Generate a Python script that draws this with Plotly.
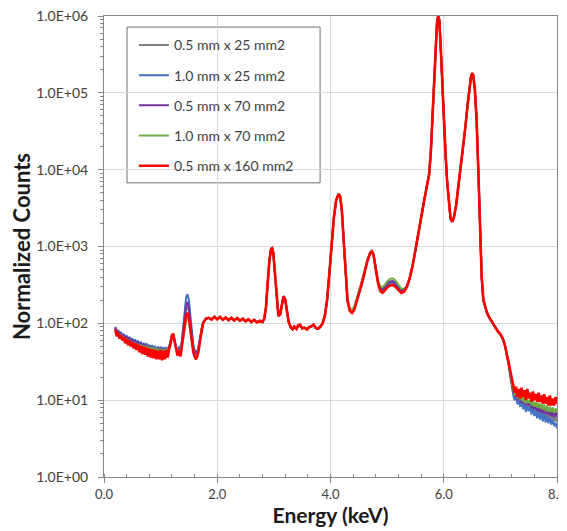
import numpy as np
import plotly.graph_objects as go

# ---------------- data ----------------
series_names = ["0.5 mm x 25 mm2", "1.0 mm x 25 mm2", "0.5 mm x 70 mm2",
                "1.0 mm x 70 mm2", "0.5 mm x 160 mm2"]
series_colors = ["#808080", "#4472C4", "#7030A0", "#70AD47", "#FF0000"]

# low-energy region, channel start 0.200 keV, step 0.025 keV
low_start, low_step = 0.200, 0.025
low_gray = [86, 73, 79, 68, 74, 64, 70, 60, 67, 57, 64, 55, 61, 52, 59, 50, 57, 48, 55, 46,
            53, 45, 52, 43, 50, 42, 49, 41, 48, 40, 47, 40, 47, 39, 46, 40, 46, 41, 48, 55,
            68, 71, 56, 47, 42, 46, 43, 54, 76, 115, 152, 165, 140, 98, 65, 48, 42, 39, 41, 49,
            64, 84, 101]
low_blue = [90, 76, 82, 71, 77, 67, 73, 63, 70, 60, 67, 58, 64, 55, 62, 53, 60, 51, 58, 49,
            56, 48, 55, 46, 53, 45, 52, 44, 51, 43, 50, 43, 50, 42, 49, 43, 49, 44, 50, 57,
            68, 70, 57, 49, 45, 49, 46, 60, 92, 150, 215, 240, 200, 128, 78, 54, 45, 42, 44, 51,
            66, 86, 103]
low_purple = [88, 74, 80, 69, 75, 65, 71, 61, 68, 58, 65, 56, 62, 53, 60, 51, 58, 49, 56, 47,
              54, 46, 53, 44, 51, 43, 50, 42, 49, 41, 48, 41, 48, 40, 47, 41, 47, 42, 49, 56,
              69, 71, 57, 48, 43, 47, 44, 56, 82, 128, 172, 190, 160, 108, 70, 50, 43, 40, 42, 50,
              65, 85, 102]
low_green = [80, 70, 75, 65, 71, 62, 67, 58, 64, 55, 61, 52, 58, 50, 56, 48, 54, 46, 53, 44,
             52, 43, 51, 42, 50, 41, 49, 40, 48, 40, 47, 39, 47, 39, 46, 40, 47, 41, 48, 55,
             67, 70, 56, 46, 41, 46, 41, 52, 66, 90, 110, 118, 104, 78, 57, 44, 39, 37, 40, 49,
             64, 84, 102]
low_red = [84, 68, 76, 63, 70, 60, 66, 55, 63, 52, 60, 50, 57, 47, 55, 45, 53, 42, 51, 40,
           50, 39, 48, 37, 47, 36, 46, 35, 45, 34, 44, 34, 45, 33, 44, 34, 45, 36, 46, 54,
           70, 73, 56, 44, 38, 45, 37, 50, 66, 98, 128, 137, 118, 84, 58, 43, 37, 34, 38, 46,
           62, 82, 100]

# plateau, Ar/Ca region (shared by all detectors)
mid1_energy = [1.775, 1.80, 1.85, 1.90, 1.95, 2.00, 2.05, 2.10, 2.15, 2.20, 2.25, 2.30, 2.35,
               2.40, 2.45, 2.50, 2.55, 2.60, 2.65, 2.70, 2.75, 2.80, 2.83, 2.86, 2.89, 2.92,
               2.95, 2.97, 2.99, 3.02, 3.05, 3.08, 3.11, 3.14, 3.17, 3.20, 3.23, 3.26, 3.30,
               3.33, 3.36, 3.40, 3.43, 3.46, 3.50, 3.54, 3.58, 3.62, 3.66, 3.70, 3.74, 3.78,
               3.82, 3.86, 3.90, 3.94, 3.98, 4.02, 4.06, 4.10, 4.14, 4.17, 4.20, 4.23, 4.26, 4.30]
mid1_counts = [108, 115, 118, 112, 122, 113, 121, 111, 119, 110, 118, 109, 117,
               108, 115, 106, 113, 104, 111, 103, 108, 104, 115, 160, 330, 650,
               930, 950, 820, 450, 200, 125, 130, 180, 225, 205, 150, 105, 88,
               84, 91, 85, 94, 96, 86, 88, 83, 89, 91, 96, 87, 85,
               90, 100, 125, 200, 450, 1100, 2400, 4000, 4800, 4500, 3000, 1300, 500, 200]

# Ti/V region (per detector)
mid2_energy = [4.34, 4.38, 4.42, 4.46, 4.50, 4.55, 4.60, 4.65, 4.70, 4.73, 4.76, 4.80, 4.84,
               4.88, 4.92, 4.96, 5.00, 5.05, 5.10, 5.15, 5.20, 5.25, 5.30]
mid2_gray = [150, 142, 156, 195, 248, 330, 462, 652, 828, 868, 782, 515, 342, 278, 268, 290,
             318, 340, 346, 325, 290, 262, 268]
mid2_blue = [148, 140, 154, 193, 245, 327, 458, 648, 825, 865, 778, 510, 338, 272, 262, 283,
             308, 330, 336, 316, 283, 258, 264]
mid2_purple = [152, 144, 158, 198, 252, 335, 468, 658, 832, 872, 788, 522, 348, 285, 276, 298,
               327, 350, 356, 334, 298, 268, 274]
mid2_green = [158, 150, 165, 205, 262, 345, 480, 670, 840, 880, 800, 540, 360, 300, 295, 320,
              352, 378, 385, 360, 318, 282, 285]
mid2_red = [145, 136, 150, 188, 240, 320, 450, 640, 820, 860, 770, 500, 330, 262, 250, 268,
            292, 312, 316, 298, 268, 248, 258]

# Mn K-alpha / K-beta region (shared)
mid3_energy = [5.35, 5.40, 5.45, 5.50, 5.55, 5.60, 5.65, 5.70, 5.74, 5.77, 5.80, 5.83, 5.86,
               5.88, 5.90, 5.92, 5.94, 5.96, 5.98, 6.00, 6.03, 6.06, 6.09, 6.12, 6.15, 6.18,
               6.22, 6.26, 6.30, 6.34, 6.38, 6.42, 6.45, 6.48, 6.50, 6.52, 6.55, 6.58, 6.61,
               6.63, 6.65, 6.67, 6.70, 6.73, 6.76, 6.80, 6.84, 6.88, 6.92, 6.96, 7.00, 7.04,
               7.08, 7.12]
mid3_counts = [300, 390, 560, 900, 1500, 2500, 3800, 6000, 8500, 16000, 50000, 180000, 450000,
               800000, 1000000, 900000, 500000, 220000, 100000, 45000, 17000, 7000, 3500, 2300,
               2100, 2400, 3500, 6000, 10000, 18000, 35000, 68000, 110000, 160000, 180000,
               170000, 110000, 45000, 10000, 3000, 900, 400, 200, 160, 140, 120, 108, 95, 85,
               78, 72, 64, 52, 38]

# high-energy tail, channel start 7.150 keV, step 0.025 keV
high_start, high_step = 7.150, 0.025
high_gray = [29, 21, 16, 13, 10.5, 12, 9.5, 11, 9, 10.5, 8.5, 10, 8, 9.5, 8, 9, 7.2, 8.8, 7,
             8.2, 6.5, 8, 6.4, 7.5, 6.2, 7.4, 6, 7.2, 5.8, 6.8, 5.6, 6.5, 5.3, 6, 5.2]
high_blue = [28, 20, 15, 12, 10, 11.5, 8.8, 10.5, 8.2, 9.8, 7.6, 9.2, 7, 8.6, 7.2, 8, 6.5, 8,
             6.2, 7.4, 5.8, 7.2, 5.6, 6.8, 5.3, 6.6, 5.1, 6.2, 5, 5.9, 4.8, 5.6, 4.6, 5.1, 4.3]
high_purple = [29, 22, 17, 13.5, 11, 12.5, 10, 11.5, 9.5, 11, 9, 10.5, 8.5, 10, 8.6, 9.5, 7.8,
               9.4, 7.6, 8.8, 7.2, 8.7, 7, 8.2, 6.8, 8, 6.6, 7.8, 6.4, 7.5, 6.2, 7.2, 6, 7, 6]
high_green = [30, 22, 17, 14, 11.5, 13, 10.5, 12, 10, 11.5, 9.5, 11, 9, 10.5, 9.2, 10, 8.5, 10,
              8.2, 9.4, 8, 9.3, 7.8, 9, 7.5, 8.8, 7.2, 8.5, 7, 8.2, 7, 8, 6.8, 7.8, 7]
high_red = [31, 24, 19, 16, 12.5, 15, 11, 14, 10.5, 14.5, 11, 13.5, 10, 14, 10.5, 12.5, 9.5,
            13, 10, 12, 9.5, 12.5, 9.5, 11.5, 9, 12, 9, 11, 8.5, 11.5, 8.5, 10.5, 8.5, 11, 9]

y_tick_vals = [1, 10, 100, 1000, 10000, 100000, 1000000]
y_tick_text = ["1.0E+00", "1.0E+01", "1.0E+02", "1.0E+03", "1.0E+04", "1.0E+05", "1.0E+06"]
x_tick_vals = [0, 2, 4, 6, 8]
x_tick_text = ["0.0", "2.0", "4.0", "6.0", "8.0"]

lows = [low_gray, low_blue, low_purple, low_green, low_red]
mid2s = [mid2_gray, mid2_blue, mid2_purple, mid2_green, mid2_red]
highs = [high_gray, high_blue, high_purple, high_green, high_red]

# ---------------- figure ----------------
fig = go.Figure()
for i, name in enumerate(series_names):
    lo, m2, hi = lows[i], mid2s[i], highs[i]
    e_lo = list(np.round(low_start + low_step * np.arange(len(lo)), 3))
    e_hi = list(np.round(high_start + high_step * np.arange(len(hi)), 3))
    x = e_lo + mid1_energy + mid2_energy + mid3_energy + e_hi
    y = list(lo) + mid1_counts + list(m2) + mid3_counts + list(hi)
    fig.add_trace(go.Scatter(
        x=x, y=y, mode="lines", name=name, legendgroup=name,
        line=dict(color=series_colors[i], width=2.6 if i == 4 else 2.0),
    ))

axis_color = "#868686"
grid_color = "#D9D9D9"
font_family = "Lato, 'Liberation Sans', sans-serif"

# the page body adds an 8px offset; margins compensate for it
fig.update_layout(
    width=567, height=523,
    margin=dict(l=96, r=18, t=8, b=54, autoexpand=False),
    paper_bgcolor="white", plot_bgcolor="white",
    font=dict(family=font_family, size=13, color="#404040"),
    showlegend=True,
    legend=dict(x=0.066, y=0.971, xanchor="left", yanchor="top",
                bgcolor="rgba(0,0,0,0)", borderwidth=0,
                font=dict(size=14, color="#404040"),
                tracegroupgap=9, itemwidth=30),
    shapes=[dict(type="rect", xref="paper", yref="paper",
                 x0=0.0508, x1=0.477, y0=0.638, y1=0.976,
                 line=dict(color="#707070", width=1), fillcolor="white", layer="below")],
)
fig.update_xaxes(
    range=[0, 8], tickmode="array", tickvals=x_tick_vals, ticktext=x_tick_text,
    showline=True, linecolor=axis_color, linewidth=1, mirror=True,
    showgrid=True, gridcolor=grid_color, gridwidth=1, zeroline=False,
    ticks="outside", ticklen=5, tickcolor=axis_color, automargin=False,
    ticklabeloverflow="allow",
    minor=dict(dtick=0.4, tick0=0, ticks="inside", ticklen=3, tickcolor=axis_color, showgrid=False),
    tickfont=dict(size=13, color="#404040"),
    title=dict(text="<b>Energy (keV)</b>", font=dict(size=21, color="#1a1a1a"), standoff=5),
)
fig.update_yaxes(
    type="log", range=[0, 6], tickmode="array", tickvals=y_tick_vals, ticktext=y_tick_text,
    showline=True, linecolor=axis_color, linewidth=1, mirror=True,
    showgrid=True, gridcolor=grid_color, gridwidth=1, zeroline=False,
    ticks="outside", ticklen=5, tickcolor=axis_color, automargin=False,
    ticklabelstandoff=7, ticklabeloverflow="allow",
    minor=dict(dtick="D1", ticks="outside", ticklen=3, tickcolor=axis_color, showgrid=False),
    tickfont=dict(size=14, color="#404040"),
    title=dict(text="<b>Normalized Counts</b>", font=dict(size=22, color="#1a1a1a"), standoff=1),
)

fig.write_html("out.html")
